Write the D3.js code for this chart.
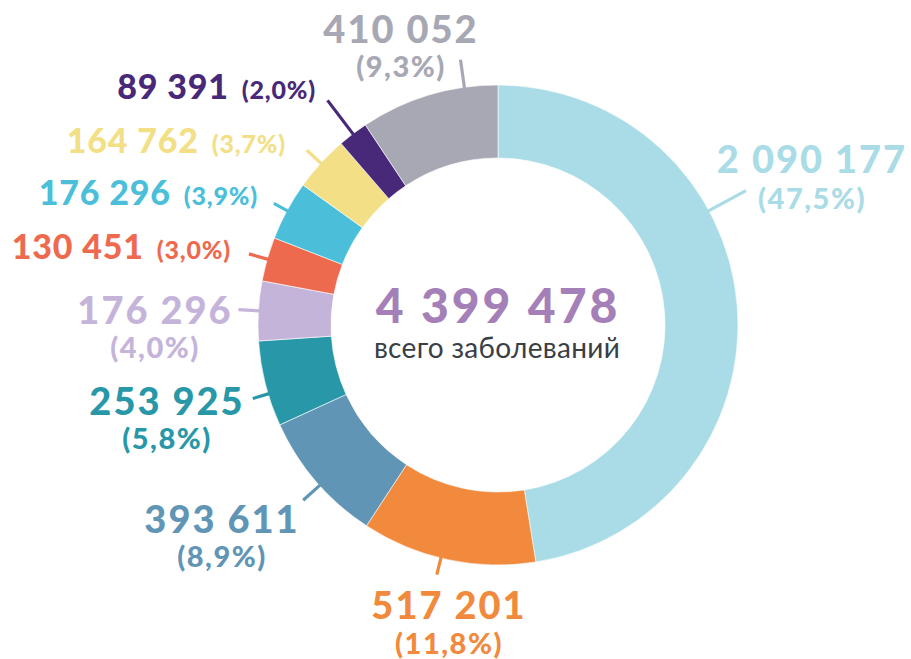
<!DOCTYPE html>
<html>
<head>
<meta charset="utf-8">
<script src="https://cdn.jsdelivr.net/npm/d3@7"></script>
<style>
  html, body { margin: 0; padding: 0; background: #ffffff; }
  svg { display: block; }
  text { font-family: "Lato", "Noto Sans", sans-serif; }
</style>
</head>
<body>
<svg id="chart" width="911" height="659"></svg>
<script>
// ---- data (clockwise from 12 o'clock) ----
const values   = [2090177, 517201, 393611, 253925, 176296, 130451, 176296, 164762, 89391, 410052];
const valueLabels = ["2 090 177", "517 201", "393 611", "253 925", "176 296", "130 451", "176 296", "164 762", "89 391", "410 052"];
const percentLabels = ["(47,5%)", "(11,8%)", "(8,9%)", "(5,8%)", "(4,0%)", "(3,0%)", "(3,9%)", "(3,7%)", "(2,0%)", "(9,3%)"];
const totalLabel = "4 399 478";
const totalCaption = "всего заболеваний";

// ---- styling / layout ----
const colors = ["#a9dce6", "#f18a3c", "#6195b5", "#2898a9", "#c5b4da", "#ee6a4f", "#4bbfd9", "#f2df86", "#482878", "#a7a8b4"];
// label layout: mode, anchor x, number baseline, percent baseline, leader position in slice (0..1), leader length
const labelLayout = [
  { mode: "stack",  x: 812, y: 173, y2: 209, at: 0.36, len: 42 },
  { mode: "stack",  x: 449, y: 619, y2: 654, at: 0.54, len: 17 },
  { mode: "stack",  x: 222, y: 533, y2: 567, at: 0.46, len: 22 },
  { mode: "stack",  x: 167, y: 415, y2: 449, at: 0.38, len: 16 },
  { mode: "stack",  x: 155, y: 324, y2: 358, at: 0.50, len: 20 },
  { mode: "inline", x: 231, y: 259, at: 0.50, len: 19 },
  { mode: "inline", x: 258, y: 205, at: 0.50, len: 15 },
  { mode: "inline", x: 286, y: 153, at: 0.50, len: 19 },
  { mode: "inline", x: 316, y: 99,  at: 0.50, len: 42 },
  { mode: "stack",  x: 401, y: 43,  y2: 77, at: 0.76, len: 28 }
];

const cx = 498, cy = 325, rOuter = 240, rInner = 167;

const svg = d3.select("#chart");
const g = svg.append("g").attr("transform", `translate(${cx},${cy})`);

const pie = d3.pie().sort(null).value(d => d).startAngle(0).endAngle(2 * Math.PI);
const arcs = pie(values);
const arc = d3.arc().innerRadius(rInner).outerRadius(rOuter);

g.selectAll("path.slice")
  .data(arcs)
  .join("path")
  .attr("class", "slice")
  .attr("d", arc)
  .attr("fill", (d, i) => colors[i])
  .attr("stroke", "#ffffff")
  .attr("stroke-width", 0.6);

// leader lines
g.selectAll("line.leader")
  .data(arcs)
  .join("line")
  .attr("class", "leader")
  .each(function (d, i) {
    const L = labelLayout[i];
    const a = d.startAngle + (d.endAngle - d.startAngle) * L.at;
    const r0 = rOuter - 1, r1 = rOuter + L.len;
    d3.select(this)
      .attr("x1", r0 * Math.sin(a)).attr("y1", -r0 * Math.cos(a))
      .attr("x2", r1 * Math.sin(a)).attr("y2", -r1 * Math.cos(a));
  })
  .attr("stroke", (d, i) => colors[i])
  .attr("stroke-width", 3.2);

// labels
const labels = svg.append("g");
arcs.forEach((d, i) => {
  const L = labelLayout[i];
  const t = labels.append("text")
    .attr("font-weight", 900)
    .attr("fill", colors[i]);
  if (L.mode === "stack") {
    t.attr("text-anchor", "middle");
    t.append("tspan")
      .attr("x", L.x).attr("y", L.y)
      .attr("font-size", 38).attr("letter-spacing", 2)
      .text(valueLabels[i]);
    t.append("tspan")
      .attr("x", L.x).attr("y", L.y2)
      .attr("font-size", 29).attr("letter-spacing", 1.5)
      .text(percentLabels[i]);
  } else {
    t.attr("x", L.x).attr("y", L.y).attr("text-anchor", "end");
    t.append("tspan").attr("font-size", 34).attr("letter-spacing", 0.8).text(valueLabels[i]);
    t.append("tspan").attr("font-size", 25).attr("dx", 13).attr("letter-spacing", 0.8).text(percentLabels[i]);
  }
});

// center
svg.append("text")
  .attr("x", cx).attr("y", 323)
  .attr("text-anchor", "middle")
  .attr("font-size", 48).attr("font-weight", 900)
  .attr("letter-spacing", 3)
  .attr("fill", "#a57fb8")
  .text(totalLabel);
svg.append("text")
  .attr("x", cx - 1).attr("y", 358)
  .attr("text-anchor", "middle")
  .attr("font-size", 28).attr("font-weight", 400)
  .attr("letter-spacing", 0.3)
  .attr("fill", "#3a3e45")
  .text(totalCaption);
</script>
</body>
</html>
